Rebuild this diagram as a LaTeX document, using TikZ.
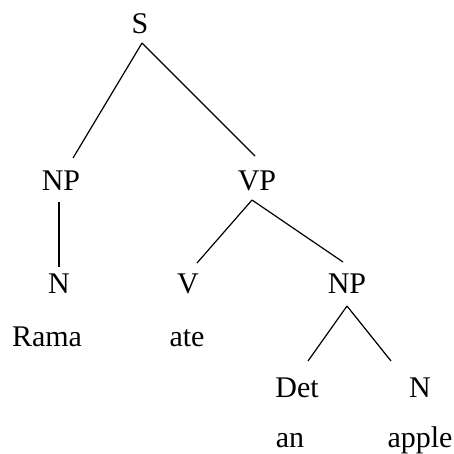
\documentclass[tikz,border=0pt]{standalone}
\usepackage{fontspec}
\setmainfont{Liberation Serif}
\begin{document}
\begin{tikzpicture}[x=1pt,y=-1pt,
  lbl/.style={font=\fontsize{30}{36}\selectfont, inner sep=0pt, anchor=base},
  edge/.style={line width=1.2pt}]
\useasboundingbox (0,0) rectangle (454,453);
\node[lbl] (S) at (140,33) {S};
\node[lbl] (NP) at (61,190) {NP};
\node[lbl] (VP) at (257,190) {VP};
\node[lbl] (N) at (59,293) {N};
\node[lbl] (V) at (188,293) {V};
\node[lbl] (NP2) at (347,293) {NP};
\node[lbl] (Rama) at (47,346) {Rama};
\node[lbl] (ate) at (187,346) {ate};
\node[lbl] (Det) at (297,397) {Det};
\node[lbl] (N2) at (420,397) {N};
\node[lbl] (an) at (290,447) {an};
\node[lbl] (apple) at (420,447) {apple};
\draw[edge] ([shift={(2,10)}]S.base) -- ([shift={(12,-32)}]NP.base);
\draw[edge] ([shift={(2,10)}]S.base) -- ([shift={(-2,-34)}]VP.base);
\draw[edge] ([shift={(-2,12)}]NP.base) -- ([shift={(0,-26)}]N.base);
\draw[edge] ([shift={(-5,10)}]VP.base) -- ([shift={(9,-30)}]V.base);
\draw[edge] ([shift={(-5,10)}]VP.base) -- ([shift={(-4,-31)}]NP2.base);
\draw[edge] ([shift={(0,13)}]NP2.base) -- ([shift={(11,-36)}]Det.base);
\draw[edge] ([shift={(0,13)}]NP2.base) -- ([shift={(-29,-36)}]N2.base);
\end{tikzpicture}
\end{document}
